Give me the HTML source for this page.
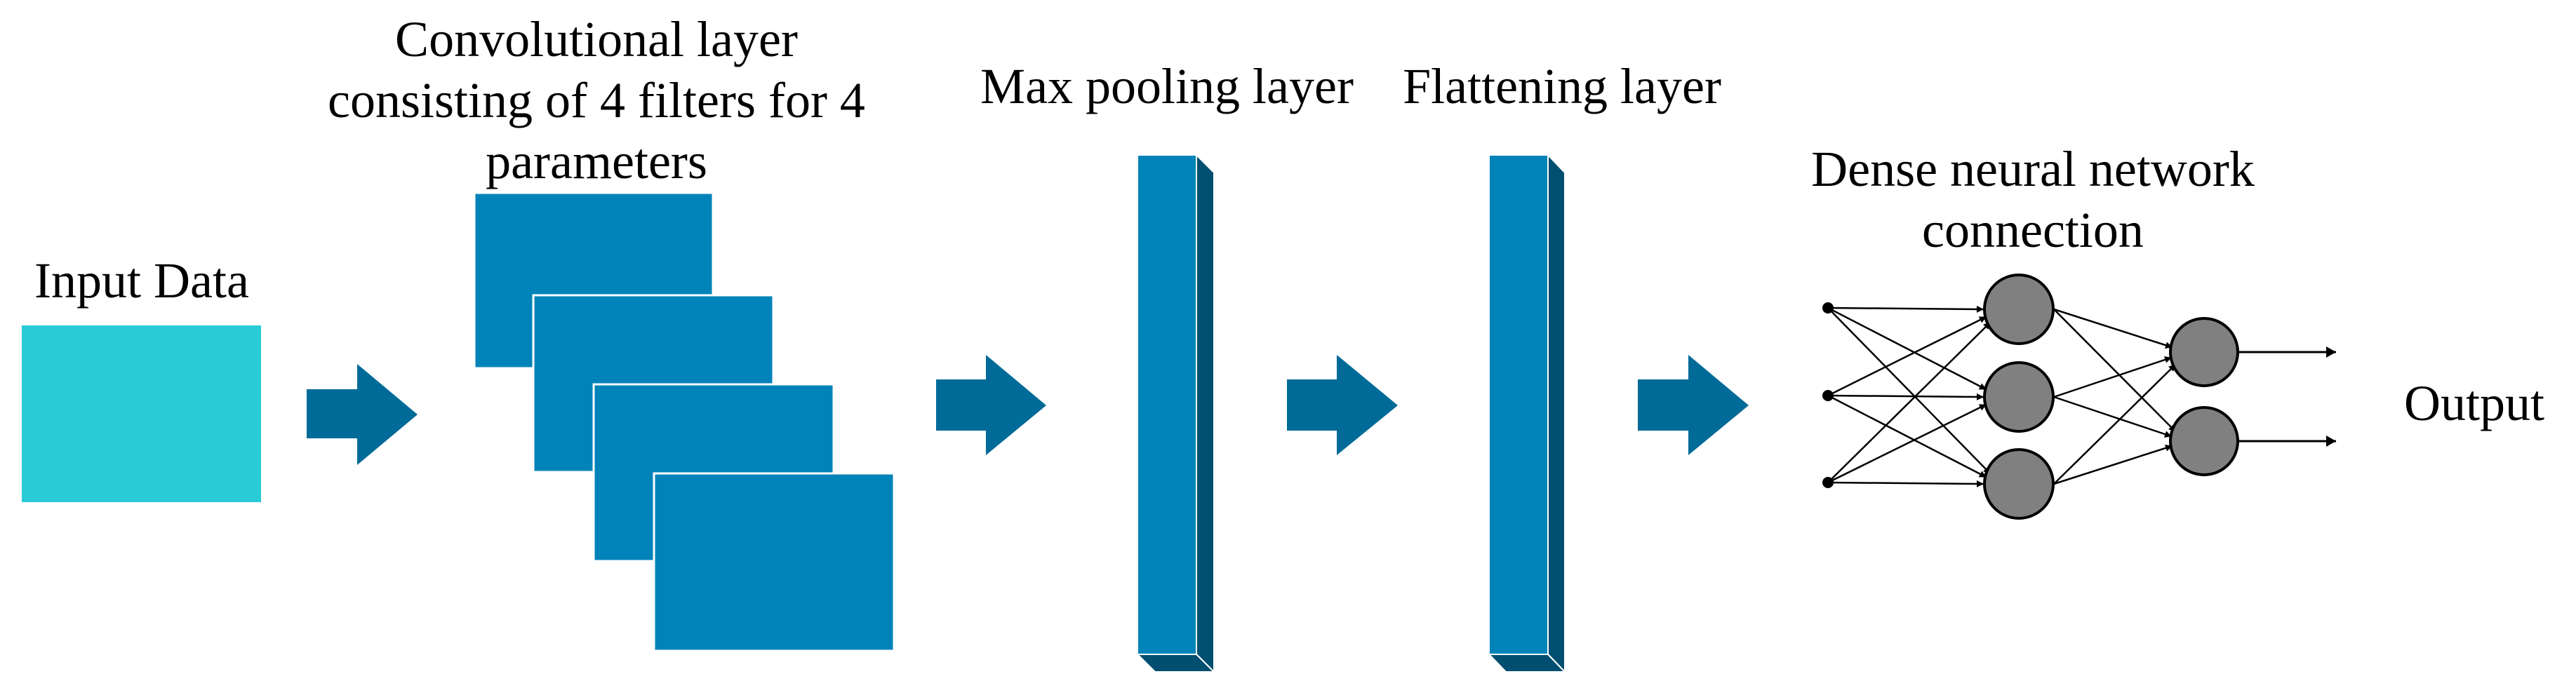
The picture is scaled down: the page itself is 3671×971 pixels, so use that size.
<!DOCTYPE html>
<html><head><meta charset="utf-8"><style>html,body{margin:0;padding:0;background:#fff}svg{display:block}text{font-family:"Liberation Serif",serif;font-size:72px;fill:#000}</style></head>
<body>
<svg width="3671" height="971" viewBox="0 0 3671 971" xmlns="http://www.w3.org/2000/svg">
<defs><marker id="ah" markerWidth="10" markerHeight="10" refX="9" refY="5" orient="auto" markerUnits="userSpaceOnUse"><path d="M0,0 L10,5 L0,10 Z" fill="#000"/></marker>
<marker id="ah2" markerWidth="16" markerHeight="16" refX="14" refY="8" orient="auto" markerUnits="userSpaceOnUse"><path d="M0,0 L14,8 L0,16 Z" fill="#000"/></marker></defs>
<text x="202" y="424" text-anchor="middle">Input Data</text>
<rect x="31" y="464" width="341" height="252" fill="#29CCD6"/>
<path d="M437,555 H509 V519 L595,591 L509,663 V625 H437 Z" fill="#006B98"/>
<text x="850" y="80" text-anchor="middle">Convolutional layer</text>
<text x="850" y="167" text-anchor="middle">consisting of 4  filters for 4</text>
<text x="850" y="254" text-anchor="middle">parameters</text>
<g fill="#0083B9" stroke="#fff" stroke-width="3">
<rect x="676" y="275" width="340" height="250"/>
<rect x="760" y="421" width="342" height="252"/>
<rect x="846" y="548" width="342" height="252"/>
<rect x="932" y="675" width="342" height="253"/>
</g>
<path d="M1334,541 H1405 V506 L1491,578 L1405,649 V614 H1334 Z" fill="#006B98"/>
<path d="M1834,541 H1905 V506 L1992,578 L1905,649 V614 H1834 Z" fill="#006B98"/>
<path d="M2334,541 H2406 V506 L2492,578 L2406,649 V614 H2334 Z" fill="#006B98"/>
<text x="1663" y="147" text-anchor="middle">Max pooling layer</text>
<text x="2226" y="147" text-anchor="middle">Flattening layer</text>
<g stroke="#fff" stroke-width="2">
<path d="M1705,221 L1730,246 V958 L1705,933 Z" fill="#004F70"/>
<path d="M1621,933 H1705 L1730,958 H1646 Z" fill="#004F70"/>
<rect x="1621" y="221" width="84" height="712" fill="#0083B9"/>
<path d="M2206,221 L2230,246 V958 L2206,933 Z" fill="#004F70"/>
<path d="M2122,933 H2206 L2230,958 H2146 Z" fill="#004F70"/>
<rect x="2122" y="221" width="84" height="712" fill="#0083B9"/>
</g>
<text x="2897" y="265" text-anchor="middle">Dense neural network</text>
<text x="2897" y="352" text-anchor="middle">connection</text>
<g stroke="#000" stroke-width="2.5" marker-end="url(#ah)">
<line x1="2605" y1="439" x2="2826" y2="441"/><line x1="2605" y1="439" x2="2830" y2="555"/><line x1="2605" y1="439" x2="2836" y2="675"/>
<line x1="2605" y1="564" x2="2830" y2="452"/><line x1="2605" y1="564" x2="2826" y2="566"/><line x1="2605" y1="564" x2="2830" y2="680"/>
<line x1="2605" y1="688" x2="2836" y2="460"/><line x1="2605" y1="688" x2="2830" y2="577"/><line x1="2605" y1="688" x2="2826" y2="690"/>
<line x1="2927" y1="441" x2="3095" y2="495"/><line x1="2927" y1="441" x2="3100" y2="615"/>
<line x1="2927" y1="566" x2="3094" y2="510"/><line x1="2927" y1="566" x2="3094" y2="622"/>
<line x1="2927" y1="690" x2="3100" y2="520"/><line x1="2927" y1="690" x2="3095" y2="636"/>
</g>
<g stroke="#000" stroke-width="3" marker-end="url(#ah2)">
<line x1="3189" y1="502" x2="3329" y2="502"/><line x1="3189" y1="629" x2="3329" y2="629"/>
</g>
<g fill="#000"><circle cx="2605" cy="439" r="8"/><circle cx="2605" cy="564" r="8"/><circle cx="2605" cy="688" r="8"/></g>
<g fill="#808080" stroke="#000" stroke-width="4">
<circle cx="2877" cy="441" r="49"/><circle cx="2877" cy="566" r="49"/><circle cx="2877" cy="690" r="49"/>
<circle cx="3141" cy="502" r="48"/><circle cx="3141" cy="629" r="48"/>
</g>
<text x="3426" y="599">Output</text>
</svg>
</body></html>
